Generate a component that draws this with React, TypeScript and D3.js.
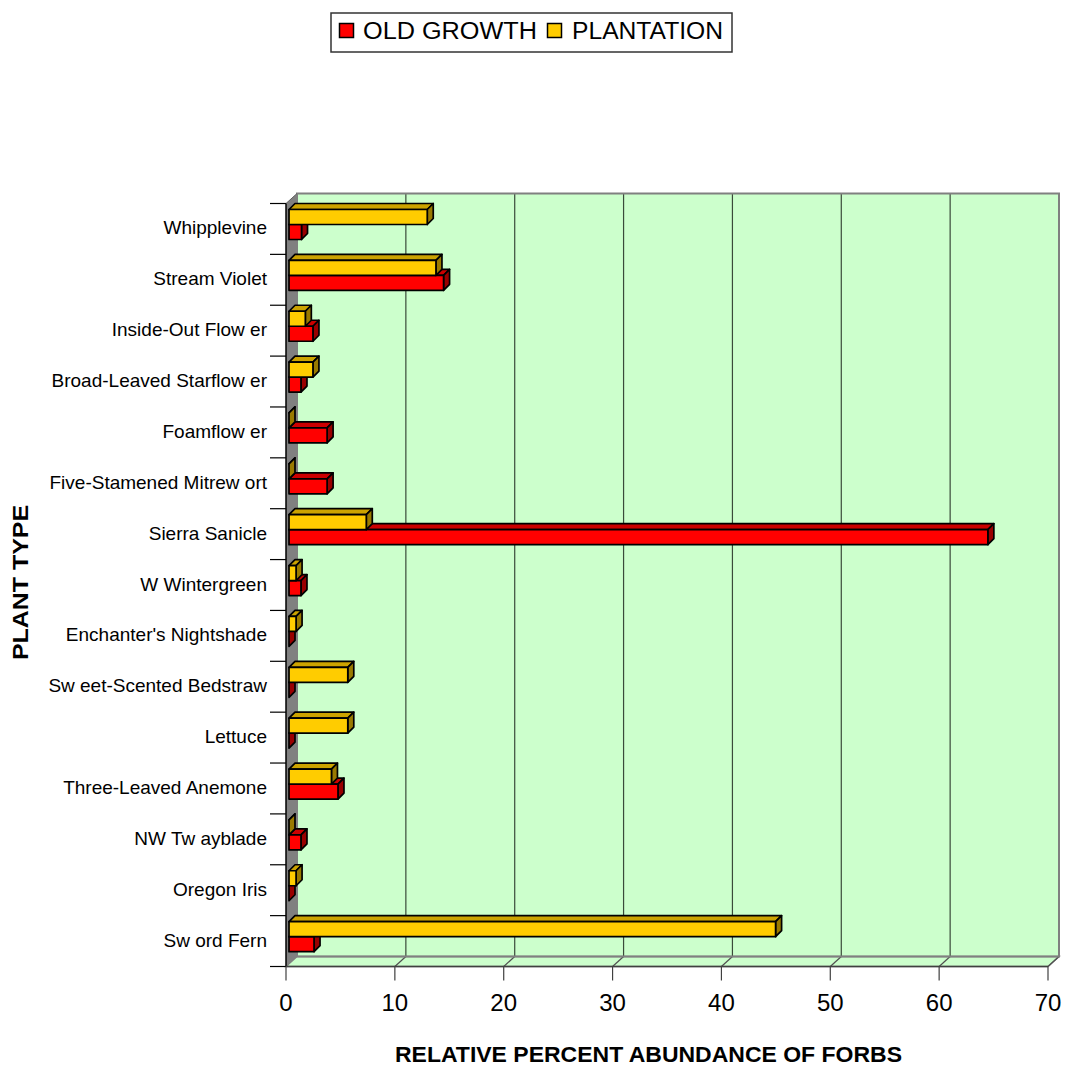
import React from "react";
import * as d3 from "d3";

const categories = [
  "Whipplevine",
  "Stream Violet",
  "Inside-Out Flow er",
  "Broad-Leaved Starflow er",
  "Foamflow er",
  "Five-Stamened Mitrew ort",
  "Sierra Sanicle",
  "W Wintergreen",
  "Enchanter's Nightshade",
  "Sw eet-Scented Bedstraw",
  "Lettuce",
  "Three-Leaved Anemone",
  "NW Tw ayblade",
  "Oregon Iris",
  "Sw ord Fern",
];
const oldGrowth = [1.15, 14.2, 2.2, 1.1, 3.5, 3.5, 64.2, 1.1, 0, 0, 0, 4.5, 1.1, 0, 2.3];
const plantation = [12.7, 13.5, 1.5, 2.2, 0, 0, 7.1, 0.65, 0.65, 5.4, 5.4, 3.9, 0, 0.65, 44.7];
const xTicks = [0, 10, 20, 30, 40, 50, 60, 70];
const seriesNames = ["OLD GROWTH", "PLANTATION"];

const FONT = "'Liberation Sans', Arial, sans-serif";
const DX = 11; // wall depth x
const DY = 10; // wall depth y
const BD = 6; // bar depth
const BZ = 3; // bar depth offset

const colors = {
  red: { front: "#FF0000", top: "#CC0000", side: "#990000" },
  yellow: { front: "#FFCC00", top: "#CCA300", side: "#997A00" },
};

export default function App() {
  const x = d3.scaleLinear().domain([0, 70]).range([286, 1048]);
  const y = d3.scaleBand<string>().domain(categories).range([203.5, 966.5]).padding(0);
  const top = 203.5;
  const bottom = 966.5;
  const x0 = x(0);
  const x1 = x(70);
  const bw = y.bandwidth();

  const bar = (v: number, yt: number, h: number, c: { front: string; top: string; side: string }, key: string) => {
    const xa = x(0) + BZ;
    const xb = x(v) + BZ;
    const yb = yt + h;
    const pts = (arr: number[][]) => arr.map((p) => p.join(",")).join(" ");
    return (
      <g key={key} stroke="#000" strokeWidth={1.7} strokeLinejoin="round">
        <polygon points={pts([[xa, yt], [xa + BD, yt - BD], [xb + BD, yt - BD], [xb, yt]])} fill={c.top} />
        <polygon points={pts([[xb, yt], [xb + BD, yt - BD], [xb + BD, yb - BD], [xb, yb]])} fill={c.side} />
        {xb - xa > 0.2 && <rect x={xa} y={yt} width={xb - xa} height={h} fill={c.front} />}
      </g>
    );
  };

  return (
    <svg
      width={1065}
      height={1066}
      style={{ position: "absolute", left: 0, top: 0, display: "block", background: "#fff" }}
      fontFamily={FONT}
    >
      {/* back wall */}
      <rect x={x0 + DX} y={top - DY} width={x1 - x0} height={bottom - top} fill="#CCFFCC" />
      {/* floor */}
      <polygon
        points={`${x0},${bottom} ${x0 + DX},${bottom - DY} ${x1 + DX},${bottom - DY} ${x1},${bottom}`}
        fill="#CCFFCC"
        stroke="#808080"
        strokeWidth={1.5}
      />
      {/* gridlines on back wall */}
      {xTicks.slice(1, -1).map((t) => (
        <line key={"g" + t} x1={x(t) + DX} x2={x(t) + DX} y1={top - DY} y2={bottom - DY} stroke="#3a4a3a" strokeWidth={1.2} />
      ))}
      {/* floor diagonals */}
      {xTicks.slice(1).map((t) => (
        <line key={"d" + t} x1={x(t)} y1={bottom} x2={x(t) + DX} y2={bottom - DY} stroke="#505050" strokeWidth={1.2} />
      ))}
      <rect x={x0 + DX} y={top - DY} width={x1 - x0} height={bottom - top} fill="none" stroke="#808080" strokeWidth={2} />
      {/* left wall */}
      <polygon
        points={`${x0},${top} ${x0 + DX},${top - DY} ${x0 + DX},${bottom - DY} ${x0},${bottom}`}
        fill="#808080"
      />
      <line x1={x0} y1={top} x2={x0 + DX} y2={top - DY} stroke="#606060" strokeWidth={1} />
      {/* bars */}
      {categories.map((cat, i) => {
        const bs = y(cat)! + 6;
        return (
          <g key={cat}>
            {bar(oldGrowth[i], bs + 15, 15, colors.red, "r" + i)}
            {bar(plantation[i], bs, 15, colors.yellow, "y" + i)}
          </g>
        );
      })}
      {/* y axis */}
      <line x1={x0} x2={x0} y1={top} y2={bottom} stroke="#000" strokeWidth={1.5} />
      {[...categories.map((c) => y(c)!), bottom].map((v, i) => (
        <line key={"yt" + i} x1={270} x2={x0} y1={v} y2={v} stroke="#000" strokeWidth={1.2} />
      ))}
      {categories.map((c) => (
        <text key={"yl" + c} x={267} y={y(c)! + bw / 2 + 5.5} textAnchor="end" fontSize={19} fill="#000">
          {c}
        </text>
      ))}
      {/* x axis */}
      <line x1={x0} x2={x1} y1={bottom} y2={bottom} stroke="#404040" strokeWidth={1.5} />
      {xTicks.map((t) => (
        <line key={"xt" + t} x1={x(t)} x2={x(t)} y1={bottom} y2={bottom + 14} stroke="#404040" strokeWidth={1.2} />
      ))}
      {xTicks.map((t) => (
        <text key={"xl" + t} x={x(t)} y={1011} textAnchor="middle" fontSize={24} fill="#000">
          {t}
        </text>
      ))}
      {/* axis titles */}
      <text x={648.5} y={1062} textAnchor="middle" fontSize={22} fontWeight="bold" textLength={507} lengthAdjust="spacingAndGlyphs">
        RELATIVE PERCENT ABUNDANCE OF FORBS
      </text>
      <text
        transform="translate(28,582.5) rotate(-90)"
        textAnchor="middle"
        fontSize={22}
        fontWeight="bold"
        textLength={155}
        lengthAdjust="spacingAndGlyphs"
      >
        PLANT TYPE
      </text>
      {/* legend */}
      <rect x={331} y={13} width={401} height={39} fill="#fff" stroke="#333" strokeWidth={1.5} />
      <rect x={339.5} y={23.5} width={14} height={14} fill={colors.red.front} stroke="#000" strokeWidth={1.5} />
      <text x={363} y={39} fontSize={23} textLength={174} lengthAdjust="spacingAndGlyphs">
        {seriesNames[0]}
      </text>
      <rect x={547.5} y={23.5} width={14} height={14} fill={colors.yellow.front} stroke="#000" strokeWidth={1.5} />
      <text x={572} y={39} fontSize={23} textLength={151} lengthAdjust="spacingAndGlyphs">
        {seriesNames[1]}
      </text>
    </svg>
  );
}
